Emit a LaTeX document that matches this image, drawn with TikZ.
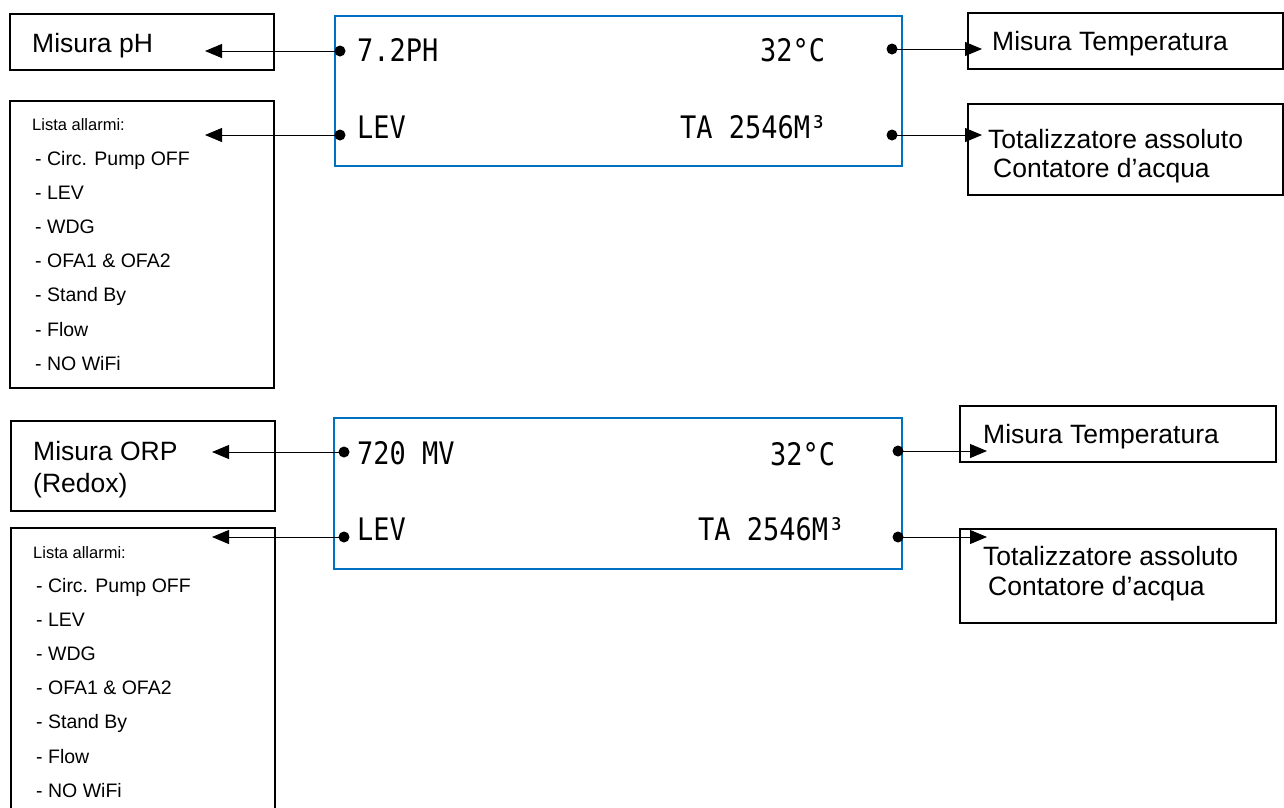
\documentclass[tikz,border=0pt]{standalone}
\usepackage{fontspec}
\setmainfont{Liberation Sans}
\newfontfamily\lcdfont{DejaVu Sans Mono}
\usetikzlibrary{arrows.meta}
\definecolor{lcdblue}{RGB}{0,112,192}
\newcommand{\lcdtext}[1]{\scalebox{0.87}[1]{#1}}
\begin{document}
\begin{tikzpicture}[x=1pt,y=-1pt,
  box/.style={draw=black,line width=1.6pt,anchor=north west,inner sep=0pt},
  lcd/.style={draw=lcdblue,line width=2.2pt,anchor=north west,inner sep=0pt},
  conn/.style={draw=black,line width=1pt,-{Triangle[length=17pt,width=14pt]}},
  dotc/.style={fill=black,circle,inner sep=0pt,minimum size=11pt},
  lbl/.style={anchor=base west,inner sep=0pt,font=\fontsize{26.5}{30}\selectfont},
  head/.style={anchor=base west,inner sep=0pt,font=\fontsize{16.5}{20}\selectfont},
  item/.style={anchor=base west,inner sep=0pt,font=\fontsize{19.5}{22}\selectfont},
  lcdtxt/.style={anchor=base west,inner sep=0pt,font=\lcdfont\fontsize{31}{31}\selectfont}]
\useasboundingbox (0,0) rectangle (1284,807);
\clip (0,0) rectangle (1284,807);

% ================= TOP SECTION =================
\node[lcd,minimum width=567pt,minimum height=150pt] (lcdA) at (334,15) {};
\node[lcdtxt] (phval) at (357,61) {\lcdtext{7.2PH}};
\node[lcdtxt] (levA) at (357,138) {\lcdtext{LEV}};
\node[lcdtxt] (tempA) at (760,61) {\lcdtext{32°C}};
\node[lcdtxt] (totA) at (680,138) {\lcdtext{TA 2546M³}};

\node[box,minimum width=264pt,minimum height=56pt] (phbox) at (9,13) {};
\node[lbl] (phlbl) at (32,52) {Misura pH};

\node[box,minimum width=264pt,minimum height=287pt] (alA) at (9,100) {};
\node[head] (alAh) at (32,130) {Lista allarmi:};
\node[item] (alA1) at (35,165) {- Circ. Pump OFF};
\node[item] (alA2) at (35,199.2) {- LEV};
\node[item] (alA3) at (35,233.4) {- WDG};
\node[item] (alA4) at (35,267.6) {- OFA1 \& OFA2};
\node[item] (alA5) at (35,301.8) {- Stand By};
\node[item] (alA6) at (35,336) {- Flow};
\node[item] (alA7) at (35,370.2) {- NO WiFi};

\node[box,minimum width=315pt,minimum height=56pt] (tmpboxA) at (967,12) {};
\node[lbl] (tmplblA) at (992,50) {Misura Temperatura};

\node[box,minimum width=315pt,minimum height=91pt] (totboxA) at (967,103) {};
\node[lbl] (totlblA1) at (988,148) {Totalizzatore assoluto};
\node[lbl] (totlblA2) at (993,177) {Contatore d’acqua};

\node[dotc] (dA1) at (340,51) {};
\node[dotc] (dA2) at (340,135) {};
\node[dotc] (dA3) at (892,49) {};
\node[dotc] (dA4) at (892,135) {};
\coordinate (tA1) at (205,51);
\coordinate (tA2) at (205,135);
\coordinate (tA3) at (982,49);
\coordinate (tA4) at (982,135);
\draw[conn] (dA1.center) -- (tA1);
\draw[conn] (dA2.center) -- (tA2);
\draw[conn] (dA3.center) -- (tA3);
\draw[conn] (dA4.center) -- (tA4);

% ================= BOTTOM SECTION =================
\node[lcd,minimum width=568pt,minimum height=151pt] (lcdB) at (333,417) {};
\node[lcdtxt] (orpval) at (357,464) {\lcdtext{720 MV}};
\node[lcdtxt] (levB) at (357,540) {\lcdtext{LEV}};
\node[lcdtxt] (tempB) at (770,465) {\lcdtext{32°C}};
\node[lcdtxt] (totB) at (698,540) {\lcdtext{TA 2546M³}};

\node[box,minimum width=264pt,minimum height=90pt] (orpbox) at (10,420) {};
\node[lbl] (orplbl1) at (33,460) {Misura ORP};
\node[lbl] (orplbl2) at (33,492) {(Redox)};

\node[box,minimum width=264pt,minimum height=310pt] (alB) at (10,527) {};
\node[head] (alBh) at (33,558) {Lista allarmi:};
\node[item] (alB1) at (36,592) {- Circ. Pump OFF};
\node[item] (alB2) at (36,626.2) {- LEV};
\node[item] (alB3) at (36,660.4) {- WDG};
\node[item] (alB4) at (36,694.6) {- OFA1 \& OFA2};
\node[item] (alB5) at (36,728.8) {- Stand By};
\node[item] (alB6) at (36,763) {- Flow};
\node[item] (alB7) at (36,797.2) {- NO WiFi};

\node[box,minimum width=316pt,minimum height=56pt] (tmpboxB) at (959,405) {};
\node[lbl] (tmplblB) at (983,443) {Misura Temperatura};

\node[box,minimum width=316pt,minimum height=94pt] (totboxB) at (959,528) {};
\node[lbl] (totlblB1) at (983,565) {Totalizzatore assoluto};
\node[lbl] (totlblB2) at (988,595) {Contatore d’acqua};

\node[dotc] (dB1) at (344,452) {};
\node[dotc] (dB2) at (344,537) {};
\node[dotc] (dB3) at (898,451) {};
\node[dotc] (dB4) at (898,537) {};
\coordinate (tB1) at (212,452);
\coordinate (tB2) at (212,537);
\coordinate (tB3) at (987,451);
\coordinate (tB4) at (987,537);
\draw[conn] (dB1.center) -- (tB1);
\draw[conn] (dB2.center) -- (tB2);
\draw[conn] (dB3.center) -- (tB3);
\draw[conn] (dB4.center) -- (tB4);
\end{tikzpicture}
\end{document}
